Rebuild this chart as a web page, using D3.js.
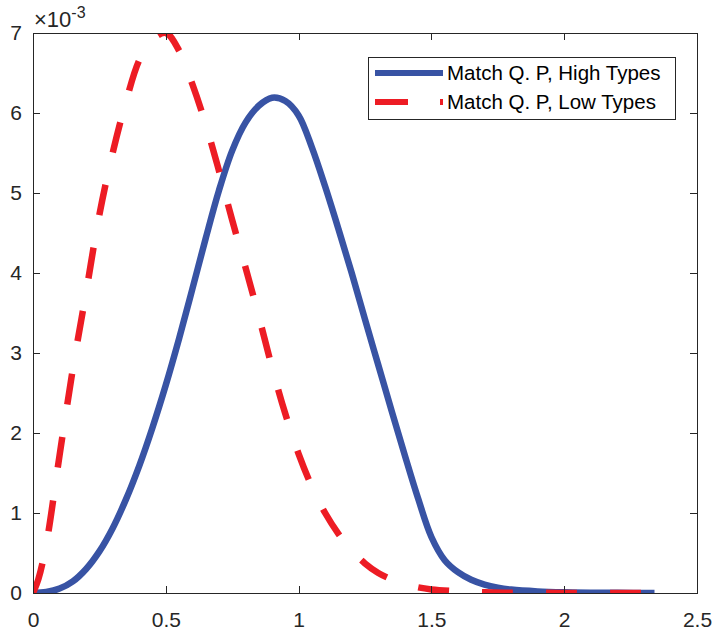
<!DOCTYPE html>
<html>
<head>
<meta charset="utf-8">
<script src="https://cdn.jsdelivr.net/npm/d3@7/dist/d3.min.js"></script>
<style>
  html, body { margin: 0; padding: 0; background: #fff; }
  svg { display: block; font-family: "Liberation Sans", Arial, Helvetica, sans-serif; }
</style>
</head>
<body>
<svg id="chart" width="713" height="632"></svg>
<script>
// values, y in units of 1e-3
var highX = [0, 0.05, 0.1, 0.15, 0.2, 0.25, 0.3, 0.35, 0.4, 0.45, 0.5, 0.55, 0.6, 0.65, 0.7, 0.75, 0.8, 0.85, 0.9, 0.95,
    1.0, 1.05, 1.1, 1.15, 1.2, 1.25, 1.3, 1.35, 1.4, 1.45, 1.5, 1.55, 1.6, 1.65, 1.7, 1.75, 1.8, 1.9, 2.0, 2.1, 2.2, 2.34];
var highY = [0, 0.012, 0.055, 0.145, 0.3, 0.52, 0.81, 1.17, 1.59, 2.07, 2.6, 3.18, 3.8, 4.43, 5.03, 5.53, 5.88, 6.09, 6.19, 6.15,
    5.97, 5.57, 5.08, 4.55, 4.0, 3.42, 2.85, 2.28, 1.72, 1.18, 0.7, 0.41, 0.26, 0.165, 0.105, 0.067, 0.043, 0.02, 0.009, 0.004, 0.002, 0.001];

var lowX = [0, 0.02, 0.05, 0.1, 0.15, 0.2, 0.25, 0.3, 0.35, 0.4, 0.45, 0.5, 0.55, 0.6, 0.65, 0.7, 0.75, 0.8, 0.85, 0.9, 0.95,
    1.0, 1.05, 1.1, 1.15, 1.2, 1.25, 1.3, 1.35, 1.4, 1.45, 1.5, 1.6, 1.7, 1.8, 2.0, 2.2, 2.34];
var lowY = [0, 0.17, 0.61, 1.72, 2.8, 3.76, 4.73, 5.5, 6.14, 6.66, 6.92, 7.0, 6.78, 6.36, 5.86, 5.28, 4.66, 4.07, 3.46, 2.82, 2.24,
    1.74, 1.33, 1.0, 0.74, 0.53, 0.37, 0.25, 0.17, 0.11, 0.07, 0.045, 0.02, 0.008, 0.004, 0.001, 0, 0];

var seriesNames = ['Match Q. P, High Types', 'Match Q. P, Low Types'];
var xTicks = [0, 0.5, 1, 1.5, 2, 2.5];
var yTicks = [0, 1, 2, 3, 4, 5, 6, 7];

var margin = { top: 33, left: 33, right: 16, bottom: 39 };
var width = 713, height = 632;
var gw = width - margin.left - margin.right;
var gh = height - margin.top - margin.bottom;
var axisColor = '#262626';
var blue = '#3853a4';
var red = '#ed1c24';

var svg = d3.select('#chart');
var g = svg.append('g')
    .attr('transform', 'translate(' + margin.left + ',' + margin.top + ')');

var x = d3.scaleLinear().domain([0, 2.5]).range([0, gw]);
var y = d3.scaleLinear().domain([0, 7]).range([gh, 0]);

svg.append('defs').append('clipPath').attr('id', 'plotclip')
    .append('rect').attr('x', 0).attr('y', 0).attr('width', gw).attr('height', gh);

var line = d3.line()
    .x(function(d) { return x(d[0]); })
    .y(function(d) { return y(d[1]); })
    .curve(d3.curveCatmullRom.alpha(0.5));

var highData = highX.map(function(v, i) { return [v, highY[i]]; });
var lowData = lowX.map(function(v, i) { return [v, lowY[i]]; });

var lines = g.append('g').attr('clip-path', 'url(#plotclip)');
lines.append('path')
    .datum(highData)
    .attr('d', line)
    .style('fill', 'none')
    .style('stroke', blue)
    .style('stroke-width', 6.5);
lines.append('path')
    .datum(lowData)
    .attr('d', line)
    .style('fill', 'none')
    .style('stroke', red)
    .style('stroke-width', 6.5)
    .style('stroke-dasharray', '31,33');

// axes, MATLAB style box with inward ticks
var tickLen = 7;
var xAxis = d3.axisBottom(x).tickValues(xTicks).tickSize(-tickLen).tickPadding(19)
    .tickFormat(function(d) { return d; });
var yAxis = d3.axisLeft(y).tickValues(yTicks).tickSize(-tickLen).tickPadding(11)
    .tickFormat(function(d) { return d; });
var xTop = d3.axisTop(x).tickValues(xTicks).tickSize(-tickLen).tickFormat('');
var yRight = d3.axisRight(y).tickValues(yTicks).tickSize(-tickLen).tickFormat('');

g.append('g').attr('class', 'axis').attr('transform', 'translate(0,' + gh + ')').call(xAxis);
g.append('g').attr('class', 'axis').call(yAxis);
g.append('g').attr('class', 'axis').call(xTop);
g.append('g').attr('class', 'axis').attr('transform', 'translate(' + gw + ',0)').call(yRight);

g.selectAll('.axis path.domain')
    .style('stroke', axisColor)
    .style('stroke-width', 1)
    .style('shape-rendering', 'crispEdges');
g.selectAll('.axis line')
    .style('stroke', axisColor)
    .style('stroke-width', 1)
    .style('shape-rendering', 'crispEdges');
g.selectAll('.axis text')
    .style('font-family', '"Liberation Sans", Arial, sans-serif')
    .style('font-size', '21px')
    .style('fill', axisColor);

// exponent label
var expo = svg.append('text')
    .attr('x', margin.left + 1)
    .attr('y', 27)
    .style('font-size', '22px')
    .style('fill', axisColor);
expo.append('tspan').text('\u00d710');
expo.append('tspan').attr('dy', -9).style('font-size', '16px').text('-3');

// legend
var legend = g.append('g').attr('transform', 'translate(' + (368 - margin.left) + ',' + (57 - margin.top) + ')');
legend.append('rect')
    .attr('width', 307).attr('height', 62)
    .style('fill', '#fff')
    .style('stroke', axisColor)
    .style('stroke-width', 1)
    .style('shape-rendering', 'crispEdges');
var rows = legend.selectAll('g.row')
    .data(seriesNames).enter().append('g')
    .attr('class', 'row')
    .attr('transform', function(d, i) { return 'translate(0,' + (16 + i * 29) + ')'; });
rows.append('line')
    .attr('x1', 7).attr('x2', 75).attr('y1', 0).attr('y2', 0)
    .style('stroke', function(d, i) { return i === 0 ? blue : red; })
    .style('stroke-width', 6)
    .style('stroke-dasharray', function(d, i) { return i === 0 ? null : '33,32'; });
rows.append('text')
    .attr('x', 79)
    .attr('y', 0)
    .attr('dy', '0.35em')
    .style('font-size', '20.5px')
    .style('fill', '#000')
    .text(function(d) { return d; });
</script>
</body>
</html>
